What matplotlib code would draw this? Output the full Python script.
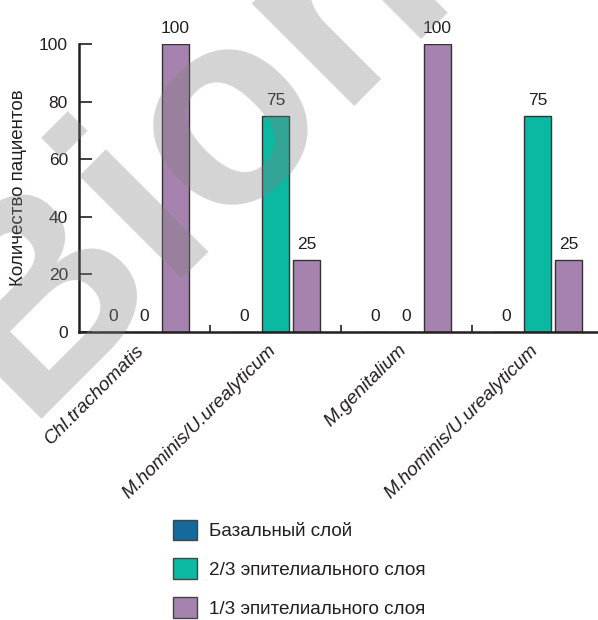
import matplotlib
matplotlib.use("Agg")
import matplotlib.pyplot as plt
from matplotlib.patches import Patch
import numpy as np

plt.rcParams['font.family'] = ['Liberation Sans', 'DejaVu Sans']

categories = ["Chl.trachomatis", "M.hominis/U.urealyticum",
              "M.genitalium", "M.hominis/U.urealyticum"]
series_names = ["Базальный слой", "2/3 эпителиального слоя", "1/3 эпителиального слоя"]
basal = [0, 0, 0, 0]
two_thirds = [0, 75, 0, 75]
one_third = [100, 25, 100, 25]
yticks = [0, 20, 40, 60, 80, 100]
ylabel = "Количество пациентов"
colors = ["#156a9c", "#0bb9a3", "#a683ae"]

W, H = 598, 620
fig = plt.figure(figsize=(W / 100, H / 100), dpi=100)
ax = fig.add_axes([79 / W, 1 - 332 / H, (W - 79) / W, (332 - 44) / H])

x = np.arange(len(categories))
offs = 0.237
bw = 0.206
series = [basal, two_thirds, one_third]
for i, (vals, col) in enumerate(zip(series, colors)):
    pos = x + (i - 1) * offs
    ax.bar(pos, vals, width=bw, color=col, edgecolor="#333333",
           linewidth=1.0, zorder=2)
    for p, v in zip(pos, vals):
        ax.annotate(f"{v}", (p, v), xytext=(0, 6), textcoords="offset points",
                    ha="center", va="bottom", fontsize=12.5, color="#231f20",
                    annotation_clip=False)

ax.set_xlim(-0.5, 3.5 - 5 / 131)
ax.set_ylim(0, 100)
ax.set_yticks(yticks)
ax.tick_params(axis="y", direction="in", length=9, width=1.2, pad=8,
               labelsize=12.5, colors="#231f20")
ax.set_xticks(x)
ax.set_xticklabels([])
ax.set_xticks([0.5, 1.5, 2.5], minor=True)
ax.tick_params(axis="x", which="major", length=0)
ax.tick_params(axis="x", which="minor", direction="in", length=5, width=1.2,
               color="#231f20")
for sp in ["top", "right"]:
    ax.spines[sp].set_visible(False)
for sp in ["left", "bottom"]:
    ax.spines[sp].set_linewidth(1.8)
    ax.spines[sp].set_color("#231f20")

for xi, lab in zip(x, categories):
    ax.annotate(lab, (xi, 0), xytext=(-6, -7), textcoords="offset points",
                rotation=45, rotation_mode="anchor", ha="right", va="top",
                fontsize=13.8, fontstyle="italic", color="#231f20",
                annotation_clip=False)

fig.text(19 / W, 1 - 188 / H, ylabel, rotation=90, ha="center", va="center",
         fontsize=13.5, color="#231f20")

handles = [Patch(facecolor=c, edgecolor="#444444", linewidth=1.0) for c in colors]
fig.legend(handles, series_names, loc="upper left",
           bbox_to_anchor=(165 / W, 1 - 512 / H), frameon=False,
           fontsize=13.6, handlelength=1.32, handleheight=1.32,
           handletextpad=0.6, labelspacing=0.95, borderaxespad=0,
           labelcolor="#231f20")

# watermark
fig.text(24 / W, 1 - 419 / H, "Bion", rotation=45, rotation_mode="anchor",
         ha="left", va="baseline", fontsize=198, fontweight="bold",
         color=(0.5, 0.5, 0.5), alpha=0.34, zorder=10)

fig.savefig("out.png", dpi=100)
